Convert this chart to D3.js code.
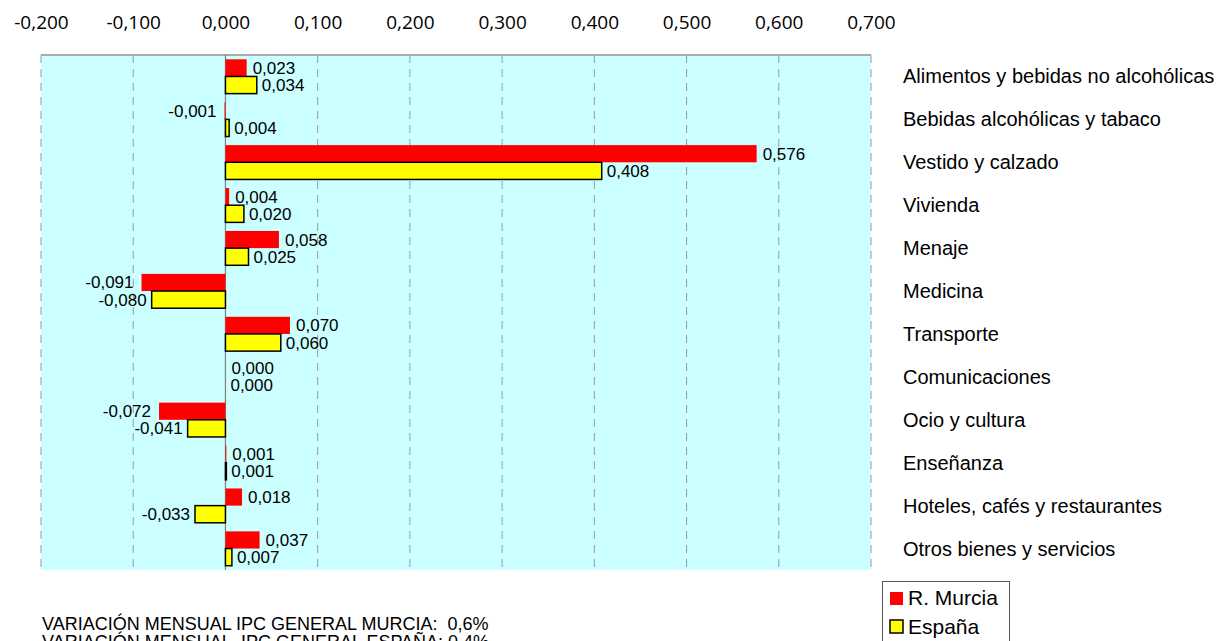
<!DOCTYPE html>
<html><head><meta charset="utf-8">
<script src="https://cdn.jsdelivr.net/npm/d3@7/dist/d3.min.js"></script>
<style>body{margin:0;background:#fff}svg{display:block}</style>
</head><body>
<svg id="c" width="1225" height="641"></svg>
<script>
const categories = ["Alimentos y bebidas no alcohólicas","Bebidas alcohólicas y tabaco","Vestido y calzado","Vivienda","Menaje","Medicina","Transporte","Comunicaciones","Ocio y cultura","Enseñanza","Hoteles, cafés y restaurantes","Otros bienes y servicios"];
const murcia = [0.023,-0.001,0.576,0.004,0.058,-0.091,0.070,0.000,-0.072,0.001,0.018,0.037];
const espana = [0.034,0.004,0.408,0.020,0.025,-0.080,0.060,0.000,-0.041,0.001,-0.033,0.007];
const tickValues = [-0.2,-0.1,0,0.1,0.2,0.3,0.4,0.5,0.6,0.7];
const seriesNames = ["R. Murcia","España"];
const footer = ["VARIACIÓN MENSUAL IPC GENERAL MURCIA:  0,6%","VARIACIÓN MENSUAL  IPC GENERAL ESPAÑA: 0,4%"];

const svg = d3.select("#c");
const L=41,R=871,T=55,B=570;
const x = d3.scaleLinear().domain([-0.2,0.7]).range([L,R]);
const y = d3.scaleBand().domain(categories).range([T,B]).paddingInner(0.2).paddingOuter(0.1);
const sub = d3.scaleBand().domain(seriesNames).range([0,y.bandwidth()]);
const fmt = v => d3.format(".3f")(v).replace(".",",").replace("−","-");
const arial = "'Liberation Sans', Arial, sans-serif";

svg.append("rect").attr("x",L).attr("y",T).attr("width",R-L).attr("height",B-T).attr("fill","#ccffff");
svg.append("g").selectAll("line").data(tickValues.filter(v=>v!==0)).join("line")
  .attr("x1",d=>x(d)).attr("x2",d=>x(d)).attr("y1",T).attr("y2",B)
  .attr("stroke","#999").attr("stroke-dasharray","8,6").attr("stroke-width",1);
svg.append("line").attr("x1",L).attr("x2",R).attr("y1",T).attr("y2",T).attr("stroke","#aaa").attr("stroke-width",2);

const ax = d3.axisTop(x).tickValues(tickValues).tickSize(0).tickPadding(0).tickFormat(fmt);
const axg = svg.append("g").attr("transform","translate(0,29)").call(ax);
axg.select(".domain").remove();
axg.selectAll("text").attr("font-family","'Open Sans', sans-serif").attr("font-size",19).attr("fill","#000");

const data = categories.map((c,i)=>({c, vals:[{s:"R. Murcia",v:murcia[i]},{s:"España",v:espana[i]}]}));
const g = svg.append("g");
const grp = g.selectAll("g").data(data).join("g").attr("transform",d=>`translate(0,${y(d.c)})`);
grp.selectAll("rect").data(d=>d.vals).join("rect")
  .attr("x",d=>x(Math.min(0,d.v))).attr("width",d=>Math.abs(x(d.v)-x(0)))
  .attr("y",d=>sub(d.s)).attr("height",sub.bandwidth())
  .attr("fill",d=>d.s==="R. Murcia"?"#ff0000":"#ffff00")
  .attr("stroke",d=>d.s==="R. Murcia"?"none":"#000").attr("stroke-width",1.5);
svg.append("line").attr("x1",x(0)).attr("x2",x(0)).attr("y1",T).attr("y2",B).attr("stroke","#808080").attr("stroke-width",1.2);
svg.node().appendChild(g.node());
grp.selectAll("text").data(d=>d.vals).join("text")
  .attr("x",d=>d.v<0? x(d.v)-(d.s==="R. Murcia"?8:5) : x(d.v)+(d.s==="R. Murcia"?6:5))
  .attr("y",d=>sub(d.s)+sub.bandwidth()/2+6)
  .attr("text-anchor",d=>d.v<0?"end":"start")
  .attr("font-family",arial).attr("font-size",17).attr("fill","#000")
  .text(d=>fmt(d.v));

svg.append("g").selectAll("text").data(categories).join("text")
  .attr("x",903).attr("y",d=>y(d)+y.bandwidth()/2+7)
  .attr("font-family",arial).attr("font-size",20).attr("fill","#000").text(d=>d);

const lg = svg.append("g").attr("transform","translate(882,581)");
lg.append("rect").attr("x",0.5).attr("y",0.5).attr("width",127).attr("height",70).attr("fill","#fff").attr("stroke","#555");
seriesNames.forEach((s,i)=>{
  lg.append("rect").attr("x",8).attr("y",11+i*28).attr("width",13).attr("height",13)
    .attr("fill",i===0?"#ff0000":"#ffff00").attr("stroke",i===0?"none":"#000").attr("stroke-width",1.5);
  lg.append("text").attr("x",26).attr("y",24+i*29).attr("font-family",arial).attr("font-size",21).text(s);
});

svg.append("g").selectAll("text").data(footer).join("text")
  .attr("x",42).attr("y",(d,i)=>630+i*18).style("white-space","pre")
  .attr("font-family",arial).attr("font-size",18).text(d=>d);
</script>
</body></html>
